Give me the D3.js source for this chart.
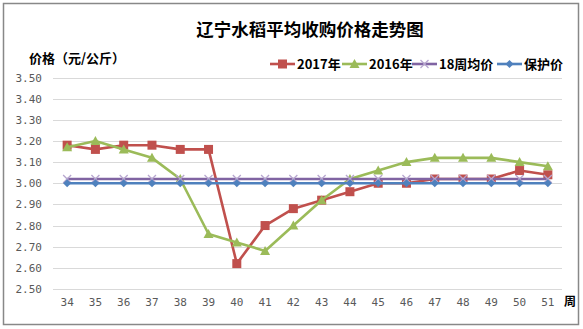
<!DOCTYPE html>
<html><head><meta charset="utf-8">
<script src="https://cdn.jsdelivr.net/npm/d3@7"></script>
<style>body{margin:0;background:#fff;}svg{display:block;}</style>
</head><body>
<script>
const weeks = [34,35,36,37,38,39,40,41,42,43,44,45,46,47,48,49,50,51];
const s2017 = [3.18,3.16,3.18,3.18,3.16,3.16,2.62,2.80,2.88,2.92,2.96,3.00,3.00,3.02,3.02,3.02,3.06,3.04];
const s2016 = [3.17,3.20,3.16,3.12,3.02,2.76,2.72,2.68,2.80,2.92,3.02,3.06,3.10,3.12,3.12,3.12,3.10,3.08];
const sAvg18 = [3.02,3.02,3.02,3.02,3.02,3.02,3.02,3.02,3.02,3.02,3.02,3.02,3.02,3.02,3.02,3.02,3.02,3.02];
const sProtect = [3.00,3.00,3.00,3.00,3.00,3.00,3.00,3.00,3.00,3.00,3.00,3.00,3.00,3.00,3.00,3.00,3.00,3.00];
const yTicks = [2.50,2.60,2.70,2.80,2.90,3.00,3.10,3.20,3.30,3.40,3.50];
const seriesNames = ["2017年","2016年","18周均价","保护价"];
const colors = ["#C0504D","#9BBB59","#8064A2","#4F81BD"];
const markers = ["square","triangle","x","diamond"];

const W=583,H=329;
const svg=d3.select("body").append("svg").attr("width",W).attr("height",H);
svg.append("rect").attr("x",3.5).attr("y",3.5).attr("width",575).attr("height",321)
  .attr("fill","#fff").attr("stroke","#888").attr("stroke-width",1.5);

const x=d3.scaleBand().domain(weeks).range([53,562]);
const y=d3.scaleLinear().domain([2.5,3.5]).range([289,77.5]);
const cx=d=>x(d)+x.bandwidth()/2;

const cjk='"Noto Sans CJK SC","Noto Sans",sans-serif';

// grid
svg.append("g").selectAll("line").data(yTicks).join("line")
  .attr("x1",53).attr("x2",562).attr("y1",d=>Math.round(y(d))+0.5).attr("y2",d=>Math.round(y(d))+0.5)
  .attr("stroke","#D9D9D9").attr("stroke-width",1);

// y axis labels
const yAxis=d3.axisLeft(y).tickValues(yTicks).tickFormat(d3.format(".2f")).tickSize(0).tickPadding(0);
const ya=svg.append("g").attr("transform","translate(42,0)").call(yAxis);
ya.select(".domain").remove();
ya.selectAll("text").attr("fill","#595959").style("font-family",'"DejaVu Sans Mono",monospace').style("font-size","11px");

// x axis labels
const xAxis=d3.axisBottom(x).tickSize(0).tickPadding(0);
const xa=svg.append("g").attr("transform","translate(0,298)").call(xAxis);
xa.select(".domain").remove();
xa.selectAll("text").attr("fill","#595959").style("font-family",'"DejaVu Sans Mono",monospace').style("font-size","11px");

svg.append("text").attr("x",564).attr("y",306).text("周").attr("font-weight","bold")
  .style("font-family",cjk).style("font-size","12px").attr("fill","#000");

// title
svg.append("text").attr("x",310).attr("y",36).attr("text-anchor","middle").text("辽宁水稻平均收购价格走势图")
  .attr("font-weight","bold").style("font-family",cjk).style("font-size","17.5px").attr("fill","#000");
svg.append("text").attr("x",29).attr("y",63).text("价格（元/公斤）")
  .attr("font-weight","bold").style("font-family",cjk).style("font-size","13px").attr("fill","#000");

function drawMarker(g,type,px,py,color){
  if(type==="square") g.append("rect").attr("x",px-4.5).attr("y",py-4.5).attr("width",9).attr("height",9).attr("fill",color);
  else if(type==="triangle") g.append("path").attr("d",`M${px},${py-5}L${px+5},${py+4}L${px-5},${py+4}Z`).attr("fill",color);
  else if(type==="x") g.append("path").attr("d",`M${px-4},${py-4}L${px+4},${py+4}M${px-4},${py+4}L${px+4},${py-4}`).attr("stroke","#B7A6CF").attr("stroke-width",1.3).attr("fill","none");
  else if(type==="diamond") g.append("path").attr("d",`M${px},${py-4}L${px+4},${py}L${px},${py+4}L${px-4},${py}Z`).attr("fill",color);
}

const allData=[s2017,s2016,sAvg18,sProtect];
const line=d3.line().x((d,i)=>cx(weeks[i])).y(d=>y(d));
allData.forEach((arr,k)=>{
  const g=svg.append("g");
  g.append("path").datum(arr).attr("d",line).attr("fill","none").attr("stroke",colors[k]).attr("stroke-width",2.6).attr("stroke-linejoin","round");
  arr.forEach((v,i)=>drawMarker(g,markers[k],cx(weeks[i]),y(v),colors[k]));
});

// legend
const legX=[270,342,412,497];
const lg=svg.append("g");
seriesNames.forEach((n,k)=>{
  const lx=legX[k], ly=64;
  lg.append("line").attr("x1",lx).attr("x2",lx+25).attr("y1",ly).attr("y2",ly).attr("stroke",colors[k]).attr("stroke-width",2.6);
  drawMarker(lg,markers[k],lx+12.5,ly,colors[k]);
  lg.append("text").attr("x",lx+27).attr("y",ly+4.5).text(n).attr("font-weight","bold")
    .style("font-family",cjk).style("font-size","13px").attr("fill","#000");
});
</script>
</body></html>
